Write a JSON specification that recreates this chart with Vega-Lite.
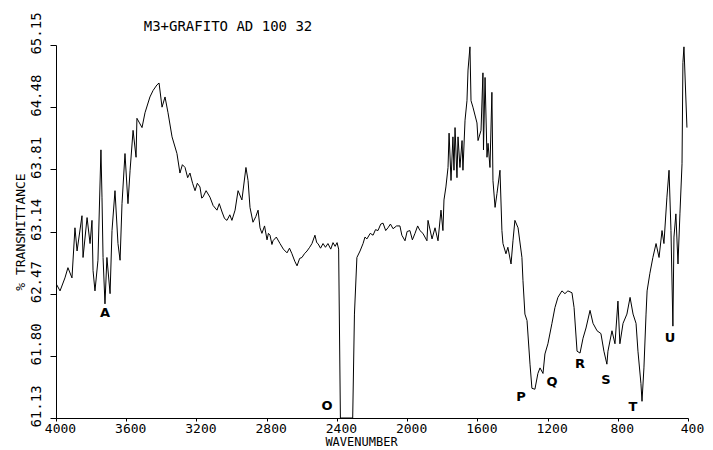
{
  "$schema": "https://vega.github.io/schema/vega-lite/v6.json",
  "width": 632,
  "height": 373,
  "autosize": "none",
  "padding": {"left": 56, "top": 45, "right": 25, "bottom": 32},
  "background": "white",
  "title": {"text": "M3+GRAFITO AD 100 32", "anchor": "middle", "dx": -144, "dy": 30, "offset": 8, "font": "DejaVu Sans Mono", "fontSize": 14, "fontWeight": "normal", "color": "black"},
  "config": {"view": {"stroke": null}},
  "datasets": {
    "spectrum": [
      {"w": 4000, "t": 62.58}, {"w": 3977, "t": 62.50}, {"w": 3949, "t": 62.64}, {"w": 3932, "t": 62.75}, {"w": 3909, "t": 62.64},
      {"w": 3892, "t": 63.18}, {"w": 3880, "t": 62.93}, {"w": 3852, "t": 63.31}, {"w": 3846, "t": 62.86}, {"w": 3823, "t": 63.29},
      {"w": 3806, "t": 63.01}, {"w": 3795, "t": 63.26}, {"w": 3789, "t": 62.72}, {"w": 3778, "t": 62.50}, {"w": 3761, "t": 62.83},
      {"w": 3744, "t": 64.02}, {"w": 3738, "t": 63.51}, {"w": 3732, "t": 62.86}, {"w": 3721, "t": 62.36}, {"w": 3710, "t": 62.86},
      {"w": 3692, "t": 62.47}, {"w": 3681, "t": 63.15}, {"w": 3664, "t": 63.58}, {"w": 3647, "t": 63.01}, {"w": 3635, "t": 62.83},
      {"w": 3624, "t": 63.44}, {"w": 3607, "t": 63.98}, {"w": 3590, "t": 63.44}, {"w": 3578, "t": 63.80}, {"w": 3561, "t": 64.23},
      {"w": 3544, "t": 63.94}, {"w": 3539, "t": 64.36}, {"w": 3510, "t": 64.26}, {"w": 3493, "t": 64.42}, {"w": 3465, "t": 64.59},
      {"w": 3447, "t": 64.66}, {"w": 3425, "t": 64.72}, {"w": 3413, "t": 64.74}, {"w": 3396, "t": 64.48}, {"w": 3379, "t": 64.59},
      {"w": 3362, "t": 64.42}, {"w": 3339, "t": 64.16}, {"w": 3311, "t": 63.98}, {"w": 3294, "t": 63.77}, {"w": 3280, "t": 63.86},
      {"w": 3265, "t": 63.83}, {"w": 3250, "t": 63.72}, {"w": 3237, "t": 63.77}, {"w": 3222, "t": 63.66}, {"w": 3208, "t": 63.58},
      {"w": 3195, "t": 63.66}, {"w": 3180, "t": 63.62}, {"w": 3170, "t": 63.50}, {"w": 3163, "t": 63.51}, {"w": 3145, "t": 63.58},
      {"w": 3123, "t": 63.51}, {"w": 3105, "t": 63.42}, {"w": 3083, "t": 63.37}, {"w": 3070, "t": 63.44}, {"w": 3054, "t": 63.35},
      {"w": 3040, "t": 63.28}, {"w": 3026, "t": 63.26}, {"w": 3010, "t": 63.32}, {"w": 2998, "t": 63.26}, {"w": 2980, "t": 63.37},
      {"w": 2963, "t": 63.58}, {"w": 2941, "t": 63.48}, {"w": 2918, "t": 63.83}, {"w": 2906, "t": 63.69}, {"w": 2895, "t": 63.40},
      {"w": 2878, "t": 63.24}, {"w": 2862, "t": 63.30}, {"w": 2849, "t": 63.37}, {"w": 2838, "t": 63.18}, {"w": 2827, "t": 63.12},
      {"w": 2812, "t": 63.20}, {"w": 2798, "t": 63.05}, {"w": 2790, "t": 63.12}, {"w": 2781, "t": 63.10}, {"w": 2770, "t": 63.00},
      {"w": 2764, "t": 63.04}, {"w": 2745, "t": 63.08}, {"w": 2724, "t": 63.01}, {"w": 2705, "t": 62.95}, {"w": 2684, "t": 62.91},
      {"w": 2670, "t": 62.96}, {"w": 2656, "t": 62.90}, {"w": 2640, "t": 62.82}, {"w": 2627, "t": 62.77}, {"w": 2612, "t": 62.85},
      {"w": 2599, "t": 62.86}, {"w": 2585, "t": 62.90}, {"w": 2570, "t": 62.93}, {"w": 2555, "t": 62.97}, {"w": 2542, "t": 63.01},
      {"w": 2525, "t": 63.10}, {"w": 2515, "t": 63.02}, {"w": 2508, "t": 63.01}, {"w": 2493, "t": 62.96}, {"w": 2479, "t": 63.01},
      {"w": 2465, "t": 62.97}, {"w": 2451, "t": 63.01}, {"w": 2435, "t": 62.95}, {"w": 2422, "t": 63.02}, {"w": 2410, "t": 62.98},
      {"w": 2399, "t": 63.02}, {"w": 2390, "t": 62.95},
      {"w": 2380, "t": 61.13}, {"w": 2310, "t": 61.13}, {"w": 2300, "t": 62.25}, {"w": 2286, "t": 62.86}, {"w": 2268, "t": 62.93},
      {"w": 2251, "t": 63.01}, {"w": 2240, "t": 63.08}, {"w": 2229, "t": 63.06}, {"w": 2210, "t": 63.12}, {"w": 2194, "t": 63.10},
      {"w": 2180, "t": 63.16}, {"w": 2166, "t": 63.15}, {"w": 2150, "t": 63.22}, {"w": 2137, "t": 63.23}, {"w": 2122, "t": 63.15},
      {"w": 2109, "t": 63.18}, {"w": 2095, "t": 63.22}, {"w": 2080, "t": 63.17}, {"w": 2060, "t": 63.20}, {"w": 2041, "t": 63.20},
      {"w": 2030, "t": 63.10}, {"w": 2012, "t": 63.04}, {"w": 2000, "t": 63.14}, {"w": 1984, "t": 63.15}, {"w": 1970, "t": 63.05},
      {"w": 1955, "t": 63.12}, {"w": 1940, "t": 63.20}, {"w": 1927, "t": 63.15}, {"w": 1910, "t": 63.12}, {"w": 1887, "t": 63.04},
      {"w": 1881, "t": 63.26}, {"w": 1858, "t": 63.06}, {"w": 1841, "t": 63.18}, {"w": 1824, "t": 63.04}, {"w": 1807, "t": 63.37},
      {"w": 1796, "t": 63.15}, {"w": 1790, "t": 63.48}, {"w": 1779, "t": 63.62}, {"w": 1767, "t": 63.83}, {"w": 1761, "t": 64.20},
      {"w": 1750, "t": 63.69}, {"w": 1739, "t": 64.16}, {"w": 1733, "t": 63.80}, {"w": 1727, "t": 64.26}, {"w": 1716, "t": 63.72},
      {"w": 1710, "t": 64.16}, {"w": 1699, "t": 63.83}, {"w": 1687, "t": 64.12}, {"w": 1682, "t": 63.80}, {"w": 1670, "t": 64.34},
      {"w": 1659, "t": 64.55}, {"w": 1653, "t": 64.88}, {"w": 1642, "t": 65.13}, {"w": 1636, "t": 64.55}, {"w": 1625, "t": 64.48},
      {"w": 1602, "t": 64.31}, {"w": 1596, "t": 64.12}, {"w": 1579, "t": 64.23}, {"w": 1568, "t": 64.85}, {"w": 1565, "t": 64.02},
      {"w": 1556, "t": 64.80}, {"w": 1545, "t": 63.94}, {"w": 1539, "t": 64.09}, {"w": 1528, "t": 63.83}, {"w": 1517, "t": 64.64},
      {"w": 1511, "t": 63.69}, {"w": 1499, "t": 63.40}, {"w": 1488, "t": 63.55}, {"w": 1471, "t": 63.80}, {"w": 1460, "t": 63.15},
      {"w": 1454, "t": 63.01}, {"w": 1437, "t": 62.90}, {"w": 1426, "t": 62.97}, {"w": 1408, "t": 62.79}, {"w": 1397, "t": 63.04},
      {"w": 1386, "t": 63.26}, {"w": 1368, "t": 63.18}, {"w": 1346, "t": 62.86}, {"w": 1340, "t": 62.61}, {"w": 1329, "t": 62.25},
      {"w": 1317, "t": 62.18}, {"w": 1300, "t": 61.71}, {"w": 1289, "t": 61.45}, {"w": 1272, "t": 61.44}, {"w": 1255, "t": 61.61},
      {"w": 1243, "t": 61.67}, {"w": 1226, "t": 61.61}, {"w": 1215, "t": 61.82}, {"w": 1198, "t": 61.93}, {"w": 1175, "t": 62.15},
      {"w": 1158, "t": 62.32}, {"w": 1141, "t": 62.43}, {"w": 1118, "t": 62.50}, {"w": 1101, "t": 62.47}, {"w": 1084, "t": 62.50},
      {"w": 1061, "t": 62.48}, {"w": 1049, "t": 62.32}, {"w": 1032, "t": 61.85}, {"w": 1015, "t": 61.83}, {"w": 998, "t": 61.99},
      {"w": 981, "t": 62.10}, {"w": 958, "t": 62.29}, {"w": 941, "t": 62.15}, {"w": 918, "t": 62.07}, {"w": 896, "t": 62.04},
      {"w": 879, "t": 61.85}, {"w": 862, "t": 61.71}, {"w": 856, "t": 61.85}, {"w": 833, "t": 62.07}, {"w": 816, "t": 61.93},
      {"w": 799, "t": 62.39}, {"w": 788, "t": 61.93}, {"w": 770, "t": 62.15}, {"w": 748, "t": 62.25}, {"w": 730, "t": 62.43},
      {"w": 713, "t": 62.25}, {"w": 696, "t": 62.15}, {"w": 685, "t": 61.85}, {"w": 668, "t": 61.50}, {"w": 662, "t": 61.31},
      {"w": 651, "t": 61.67}, {"w": 639, "t": 62.25}, {"w": 633, "t": 62.50}, {"w": 617, "t": 62.69}, {"w": 600, "t": 62.86},
      {"w": 582, "t": 63.01}, {"w": 565, "t": 62.86}, {"w": 548, "t": 63.15}, {"w": 537, "t": 63.01}, {"w": 520, "t": 63.51},
      {"w": 508, "t": 63.80}, {"w": 497, "t": 63.15}, {"w": 486, "t": 62.12}, {"w": 480, "t": 63.08}, {"w": 469, "t": 63.33},
      {"w": 457, "t": 62.79}, {"w": 446, "t": 63.33}, {"w": 434, "t": 63.87}, {"w": 429, "t": 64.96}, {"w": 423, "t": 65.13},
      {"w": 406, "t": 64.26}
    ],
    "labels": [
      {"w": 3721, "t": 62.26, "s": "A"},
      {"w": 2456, "t": 61.26, "s": "O"},
      {"w": 1351, "t": 61.36, "s": "P"},
      {"w": 1175, "t": 61.52, "s": "Q"},
      {"w": 1015, "t": 61.71, "s": "R"},
      {"w": 867, "t": 61.54, "s": "S"},
      {"w": 713, "t": 61.25, "s": "T"},
      {"w": 503, "t": 61.99, "s": "U"}
    ]
  },
  "encoding": {
    "x": {
      "field": "w", "type": "quantitative",
      "scale": {"domain": [4000, 400], "nice": false, "zero": false},
      "axis": {
        "values": [4000, 3600, 3200, 2800, 2400, 2000, 1600, 1200, 800, 400],
        "format": "d", "grid": false, "labelFlush": false, "labelOverlap": false,
        "labelFont": "DejaVu Sans Mono", "labelFontSize": 13, "labelColor": "black", "labelPadding": 1, "labelOffset": 4,
        "tickSize": 3, "tickColor": "black", "domainColor": "black",
        "title": "WAVENUMBER", "titleFont": "DejaVu Sans Mono", "titleFontSize": 12, "titleFontWeight": "normal", "titleColor": "black", "titlePadding": 1, "titleX": 305
      }
    },
    "y": {
      "field": "t", "type": "quantitative",
      "scale": {"domain": [61.13, 65.15], "nice": false, "zero": false},
      "axis": {
        "values": [61.13, 61.80, 62.47, 63.14, 63.81, 64.48, 65.15],
        "format": ".2f", "grid": false, "labelOverlap": false, "labelFlush": false,
        "labelAngle": -90, "labelAlign": "center", "labelBaseline": "bottom", "labelOffset": -12,
        "labelFont": "DejaVu Sans Mono", "labelFontSize": 14, "labelColor": "black", "labelPadding": 7,
        "tickSize": 6, "tickColor": "black", "domainColor": "black",
        "title": "% TRANSMITTANCE", "titleFont": "DejaVu Sans Mono", "titleFontSize": 13, "titleFontWeight": "normal", "titleColor": "black", "titlePadding": 2
      }
    }
  },
  "layer": [
    {
      "data": {"name": "spectrum"},
      "mark": {"type": "line", "color": "black", "strokeWidth": 1, "clip": true}
    },
    {
      "data": {"name": "labels"},
      "mark": {"type": "text", "font": "DejaVu Sans", "fontSize": 13, "fontWeight": "bold", "color": "black"},
      "encoding": {"text": {"field": "s", "type": "nominal"}}
    }
  ]
}
